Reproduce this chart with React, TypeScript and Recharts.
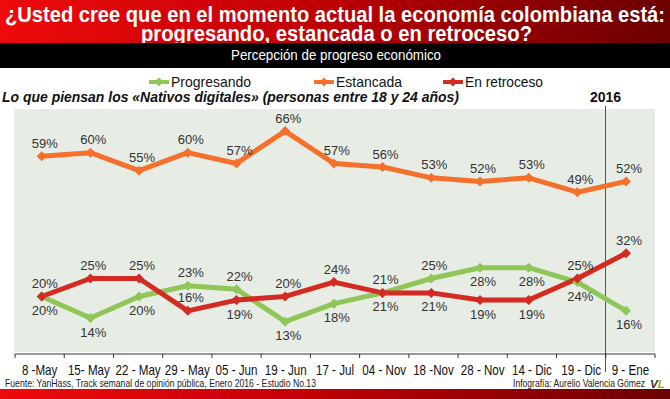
import { LineChart, Line, XAxis, YAxis, LabelList } from "recharts";

const dates = [
  "8 -May", "15- May", "22 - May", "29 - May", "05 - Jun", "19 - Jun", "17 - Jul",
  "04 - Nov", "18 -Nov", "28 - Nov", "14 - Dic", "19 - Dic", "9 - Ene",
];
const progresando = [20, 14, 20, 23, 22, 13, 18, 21, 25, 28, 28, 24, 16];
const estancada = [59, 60, 55, 60, 57, 66, 57, 56, 53, 52, 53, 49, 52];
const retroceso = [20, 25, 25, 16, 19, 20, 24, 21, 21, 19, 19, 25, 32];

// where each value label sits: "a" above the point, "b" below
const progresandoSide = ["b", "b", "b", "a", "a", "b", "b", "a", "a", "b", "b", "b", "b"];
const estancadaSide = dates.map(() => "a");
const retrocesoSide = ["a", "a", "a", "a", "b", "a", "a", "b", "b", "b", "b", "a", "a"];

const data = dates.map((date, i) => ({
  date,
  idx: i,
  progresando: progresando[i],
  estancada: estancada[i],
  retroceso: retroceso[i],
}));

const GREEN = "#8fc657";
const ORANGE = "#f4702b";
const RED = "#d32a21";

const sans = "'Liberation Sans', Arial, sans-serif";

const PLOT_W = 640;
const BAND = PLOT_W / dates.length;

const Diamond = (color: string) => (props: any) => {
  const { cx, cy, index } = props;
  if (cx == null || cy == null) return <g key={index} />;
  const r = 5;
  return (
    <path
      key={index}
      d={`M${cx},${cy - r} L${cx + r},${cy} L${cx},${cy + r} L${cx - r},${cy} Z`}
      fill={color}
    />
  );
};

const makeLabel = (sides: string[]) => (props: any) => {
  const { x, y, value, index } = props;
  const above = sides[index] === "a";
  return (
    <text
      x={x + 3}
      y={above ? y - 13 : y + 14}
      textAnchor="middle"
      dominantBaseline="central"
      fontFamily={sans}
      fontSize={13}
      fill="#333"
    >
      {value}%
    </text>
  );
};

const DateTick = (props: any) => {
  const { x, y, payload, index } = props;
  const left = x - BAND / 2;
  const right = x + BAND / 2;
  return (
    <g>
      <line x1={left} x2={left} y1={y} y2={y + 4} stroke="#333" strokeWidth={1} />
      {index === dates.length - 1 && (
        <line x1={right} x2={right} y1={y} y2={y + 4} stroke="#333" strokeWidth={1} />
      )}
      <text
        transform={`translate(${x},${y + 21}) scale(0.8,1)`}
        textAnchor="middle"
        fontFamily={sans}
        fontSize={14.5}
        fill="#111"
      >
        {payload.value}
      </text>
    </g>
  );
};

const legendItems = [
  { name: "Progresando", color: GREEN, left: 149, w: 80 },
  { name: "Estancada", color: ORANGE, left: 314, w: 66 },
  { name: "En retroceso", color: RED, left: 443, w: 78 },
];

export default function App() {
  return (
    <div
      style={{
        position: "absolute",
        left: 0,
        top: 0,
        width: 670,
        height: 399,
        background: "#fff",
        overflow: "hidden",
      }}
    >
      <svg
        width={670}
        height={399}
        style={{ position: "absolute", left: 0, top: 0 }}
      >
        <defs>
          <linearGradient id="redband" x1="0" x2="1" y1="0" y2="0">
            <stop offset="0" stopColor="#ee0a0c" />
            <stop offset="0.45" stopColor="#c20006" />
            <stop offset="1" stopColor="#6b0000" />
          </linearGradient>
        </defs>
        {/* title band */}
        <rect x={0} y={0} width={670} height={43} fill="url(#redband)" />
        <text
          x={5}
          y={22}
          textLength={660}
          lengthAdjust="spacingAndGlyphs"
          fontFamily={sans}
          fontWeight="bold"
          fontSize={22}
          fill="#fff"
        >
          ¿Usted cree que en el momento actual la economía colombiana está:
        </text>
        <text
          x={141}
          y={40.5}
          textLength={391}
          lengthAdjust="spacingAndGlyphs"
          fontFamily={sans}
          fontWeight="bold"
          fontSize={22}
          fill="#fff"
        >
          progresando, estancada o en retroceso?
        </text>
        {/* black band */}
        <rect x={0} y={43} width={670} height={25} fill="#000" />
        <text
          x={231}
          y={60}
          textLength={210}
          lengthAdjust="spacingAndGlyphs"
          fontFamily={sans}
          fontSize={14}
          fill="#fff"
        >
          Percepción de progreso económico
        </text>
        {/* legend */}
        {legendItems.map((it) => (
          <g key={it.name}>
            <line x1={it.left} x2={it.left + 20} y1={82} y2={82} stroke={it.color} strokeWidth={4} />
            <path
              d={`M${it.left + 10},${77.5} L${it.left + 14.5},82 L${it.left + 10},${86.5} L${it.left + 5.5},82 Z`}
              fill={it.color}
            />
            <text
              x={it.left + 22}
              y={87}
              textLength={it.w}
              lengthAdjust="spacingAndGlyphs"
              fontFamily={sans}
              fontSize={15}
              fill="#111"
            >
              {it.name}
            </text>
          </g>
        ))}
        <text
          x={2}
          y={102}
          textLength={457}
          lengthAdjust="spacingAndGlyphs"
          fontFamily={sans}
          fontWeight="bold"
          fontStyle="italic"
          fontSize={14}
          fill="#111"
        >
          Lo que piensan los «Nativos digitales» (personas entre 18 y 24 años)
        </text>
        <text
          x={605.5}
          y={102}
          textAnchor="middle"
          fontFamily={sans}
          fontWeight="bold"
          fontSize={14}
          fill="#111"
        >
          2016
        </text>
        {/* plot background */}
        <rect x={14} y={109} width={641} height={243} fill="#e7ece4" />
        {/* separator for 2016 */}
        <line x1={605.5} x2={605.5} y1={106} y2={372} stroke="#555" strokeWidth={1} />
        {/* footer */}
        <text
          x={5}
          y={387}
          textLength={311}
          lengthAdjust="spacingAndGlyphs"
          fontFamily={sans}
          fontSize={11.5}
          fill="#222"
        >
          Fuente: YanHass, Track semanal de opinión pública, Enero 2016 - Estudio No.13
        </text>
        <text
          x={513}
          y={387}
          textLength={132}
          lengthAdjust="spacingAndGlyphs"
          fontFamily={sans}
          fontSize={11.5}
          fill="#222"
        >
          Infografía: Aurelio Valencia Gómez
        </text>
        <text
          x={650}
          y={388}
          textLength={15}
          lengthAdjust="spacingAndGlyphs"
          fontFamily={sans}
          fontWeight="bold"
          fontStyle="italic"
          fontSize={11}
          fill="#333"
        >
          V<tspan fill="#c8a000">L</tspan>
        </text>
        <rect x={0} y={389} width={670} height={10} fill="url(#redband)" />
      </svg>
      <div style={{ position: "absolute", left: 0, top: 0 }}>
        <LineChart
          width={670}
          height={399}
          data={data}
          margin={{ top: 109, right: 15, left: 15, bottom: 15 }}
        >
          <XAxis
            xAxisId="num"
            dataKey="idx"
            type="number"
            domain={[-0.548, 12.594]}
            allowDataOverflow
            hide
          />
          <XAxis
            xAxisId="cat"
            dataKey="date"
            type="category"
            interval={0}
            height={30}
            padding={{ left: BAND / 2, right: BAND / 2 }}
            tickLine={false}
            tickSize={0}
            tickMargin={0}
            axisLine={{ stroke: "#333", strokeWidth: 1 }}
            tick={<DateTick />}
          />
          <YAxis type="number" domain={[4, 72.14]} allowDataOverflow hide />
          <Line
            xAxisId="num"
            dataKey="estancada"
            stroke={ORANGE}
            strokeWidth={5}
            strokeLinejoin="round"
            dot={Diamond(ORANGE)}
            activeDot={false}
            isAnimationActive={false}
          >
            <LabelList dataKey="estancada" content={makeLabel(estancadaSide)} />
          </Line>
          <Line
            xAxisId="num"
            dataKey="progresando"
            stroke={GREEN}
            strokeWidth={5}
            strokeLinejoin="round"
            dot={Diamond(GREEN)}
            activeDot={false}
            isAnimationActive={false}
          >
            <LabelList dataKey="progresando" content={makeLabel(progresandoSide)} />
          </Line>
          <Line
            xAxisId="num"
            dataKey="retroceso"
            stroke={RED}
            strokeWidth={5}
            strokeLinejoin="round"
            dot={Diamond(RED)}
            activeDot={false}
            isAnimationActive={false}
          >
            <LabelList dataKey="retroceso" content={makeLabel(retrocesoSide)} />
          </Line>
        </LineChart>
      </div>
    </div>
  );
}
